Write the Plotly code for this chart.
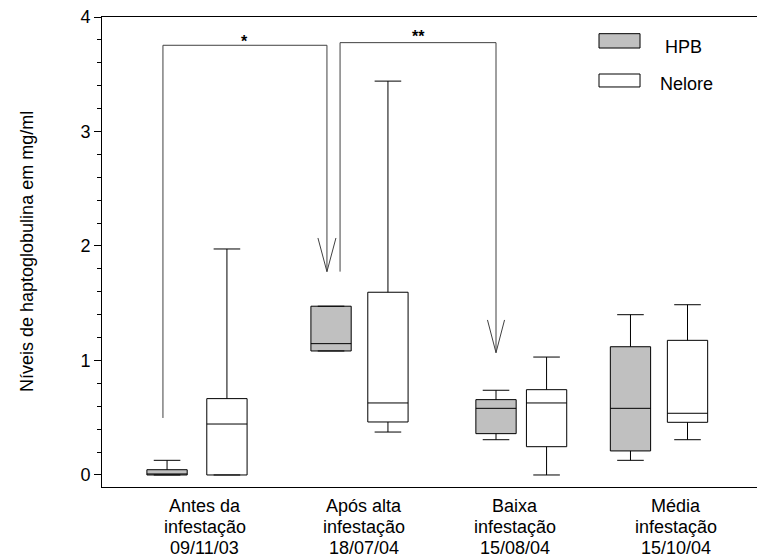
import plotly.graph_objects as go

# ---------------- data ----------------
cat_lines = [["Antes da", "infestação", "09/11/03"],
             ["Após alta", "infestação", "18/07/04"],
             ["Baixa", "infestação", "15/08/04"],
             ["Média", "infestação", "15/10/04"]]

hpb_lower = [0.0, 1.083, 0.308, 0.128]
hpb_q1 = [0.0, 1.083, 0.361, 0.210]
hpb_median = [0.0, 1.147, 0.582, 0.582]
hpb_q3 = [0.046, 1.474, 0.658, 1.120]
hpb_upper = [0.128, 1.474, 0.740, 1.400]

nel_lower = [0.0, 0.375, 0.0, 0.308]
nel_q1 = [0.0, 0.463, 0.247, 0.460]
nel_median = [0.445, 0.629, 0.629, 0.539]
nel_q3 = [0.667, 1.596, 0.745, 1.176]
nel_upper = [1.974, 3.440, 1.030, 1.487]

y_ticks = [0, 1, 2, 3, 4]

# ---------------- layout helpers ----------------
group_pos = [1, 2, 3, 4]
label_pos = [1.0, 2.01, 2.965, 3.985]
hpb_offset = [-0.237, -0.199, -0.155, -0.304]
nel_offset = [0.142, 0.161, 0.165, 0.057]
box_w = 0.255
line_y = [-0.0406, -0.0847, -0.1294]

FONT = "Liberation Sans, Arial, Helvetica, sans-serif"
FS = 18
GREY = "#c0c0c0"

fig = go.Figure()
for i, g in enumerate(group_pos):
    fig.add_trace(go.Box(
        x=[g + hpb_offset[i]], q1=[hpb_q1[i]], median=[hpb_median[i]], q3=[hpb_q3[i]],
        lowerfence=[hpb_lower[i]], upperfence=[hpb_upper[i]],
        width=box_w, whiskerwidth=0.66, fillcolor=GREY,
        line=dict(color="black", width=1), boxpoints=False,
        name="HPB", showlegend=False, hoverinfo="skip"))
    fig.add_trace(go.Box(
        x=[g + nel_offset[i]], q1=[nel_q1[i]], median=[nel_median[i]], q3=[nel_q3[i]],
        lowerfence=[nel_lower[i]], upperfence=[nel_upper[i]],
        width=box_w, whiskerwidth=0.66, fillcolor="white",
        line=dict(color="black", width=1), boxpoints=False,
        name="Nelore", showlegend=False, hoverinfo="skip"))

# ---------------- category labels ----------------
for i, lines in enumerate(cat_lines):
    for j, txt in enumerate(lines):
        fig.add_annotation(x=label_pos[i], y=line_y[j], xref="x", yref="paper", text=txt,
                           showarrow=False, xanchor="center", yanchor="middle",
                           font=dict(size=FS, family=FONT, color="black"))

# ---------------- significance brackets ----------------
LC = "#404040"
def seg(x0, y0, x1, y1):
    fig.add_shape(type="line", x0=x0, y0=y0, x1=x1, y1=y1, xref="x", yref="y",
                  line=dict(color=LC, width=1))

# "*" bracket
b1_l, b1_r, b1_y = 0.737, 1.775, 3.753
seg(b1_l, 0.498, b1_l, b1_y)
seg(b1_l, b1_y, b1_r, b1_y)
seg(b1_r, b1_y, b1_r, 1.776)
seg(b1_r - 0.057, 2.07, b1_r, 1.776)
seg(b1_r + 0.057, 2.07, b1_r, 1.776)

# "**" bracket
b2_l, b2_r, b2_y = 1.858, 2.845, 3.776
seg(b2_l, 1.776, b2_l, b2_y)
seg(b2_l, b2_y, b2_r, b2_y)
seg(b2_r, b2_y, b2_r, 1.068)
seg(b2_r - 0.054, 1.354, b2_r, 1.068)
seg(b2_r + 0.054, 1.354, b2_r, 1.068)

fig.add_annotation(x=(b1_l + b1_r) / 2, y=b1_y, text="<b>*</b>", showarrow=False, yshift=-7,
                   xref="x", yref="y", yanchor="bottom", font=dict(size=16, family=FONT, color="black"))
fig.add_annotation(x=(b2_l + b2_r) / 2, y=b2_y, text="<b>**</b>", showarrow=False, yshift=-4,
                   xref="x", yref="y", yanchor="bottom", font=dict(size=16, family=FONT, color="black"))

# ---------------- legend (manual) ----------------
fig.add_shape(type="rect", xref="paper", yref="paper", x0=0.7588, x1=0.8214, y0=0.934, y1=0.9645,
              fillcolor=GREY, line=dict(color="black", width=1))
fig.add_shape(type="rect", xref="paper", yref="paper", x0=0.7588, x1=0.8214, y0=0.8511, y1=0.8787,
              fillcolor="white", line=dict(color="black", width=1))
fig.add_annotation(x=0.8565, y=0.9372, xref="paper", yref="paper", text="HPB", showarrow=False,
                   xanchor="left", yanchor="middle", font=dict(size=FS, family=FONT, color="black"))
fig.add_annotation(x=0.8489, y=0.8585, xref="paper", yref="paper", text="Nelore", showarrow=False,
                   xanchor="left", yanchor="middle", font=dict(size=FS, family=FONT, color="black"))

# y title
fig.add_annotation(x=-0.1145, y=0.5, xref="paper", yref="paper", text="Níveis de haptoglobulina em mg/ml",
                   showarrow=False, textangle=-90, xanchor="center", yanchor="middle",
                   font=dict(size=FS, family=FONT, color="black"))

fig.update_layout(
    width=757, height=558,
    margin=dict(l=102, r=0, t=17, b=71),
    paper_bgcolor="white", plot_bgcolor="white",
    font=dict(family=FONT, size=FS, color="black"),
    boxmode="overlay", showlegend=False,
    xaxis=dict(range=[0.3513, 4.4968], showticklabels=False,
               showline=True, linecolor="black", linewidth=1, mirror=True,
               ticks="", showgrid=False, zeroline=False),
    yaxis=dict(range=[-0.105, 4], tickvals=y_ticks,
               showline=True, linecolor="black", linewidth=1,
               ticks="outside", ticklen=7, tickcolor="black",
               minor=dict(dtick=0.2, ticks="outside", ticklen=4, tickcolor="black"),
               showgrid=False, zeroline=False,
               tickfont=dict(size=FS, family=FONT, color="black")),
)

fig.write_html("out.html", config={"displayModeBar": False},
               post_script="document.body.style.margin='0px';")
